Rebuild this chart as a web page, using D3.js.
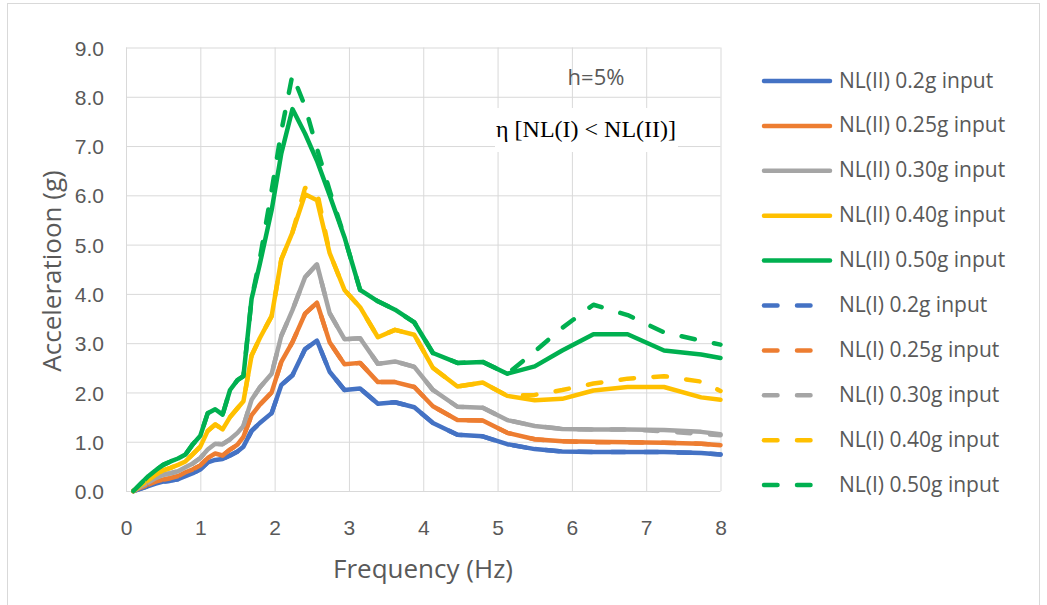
<!DOCTYPE html>
<html>
<head>
<meta charset="utf-8">
<script src="https://cdn.jsdelivr.net/npm/d3@7"></script>
<style>
    body { margin: 0; background: #fff; }
    svg { display: block; font-family: 'Open Sans', sans-serif; }
</style>
</head>
<body>
<svg></svg>
<script>
/*
*   Data.
*/

const FREQ = [0.1, 0.2, 0.3, 0.4, 0.5, 0.6, 0.7, 0.8, 0.9, 1.0, 1.1, 1.2, 1.3, 1.4, 1.5, 1.58, 1.69, 1.8, 1.96, 2.09,
    2.24, 2.41, 2.57, 2.74, 2.94, 3.15, 3.39, 3.62, 3.88, 4.13, 4.46, 4.80, 5.13, 5.50, 5.87, 6.29, 6.75, 7.24, 7.74, 8.0]

const NL2_020 = [0.0, 0.05, 0.1, 0.15, 0.19, 0.21, 0.24, 0.3, 0.36, 0.44, 0.58, 0.63, 0.65, 0.72, 0.8, 0.9, 1.22, 1.38, 1.58, 2.15,
    2.35, 2.88, 3.05, 2.42, 2.05, 2.08, 1.77, 1.80, 1.70, 1.38, 1.14, 1.11, 0.95, 0.85, 0.80, 0.79, 0.79, 0.79, 0.77, 0.74]
const NL2_025 = [0.0, 0.07, 0.13, 0.19, 0.23, 0.26, 0.3, 0.38, 0.44, 0.52, 0.67, 0.76, 0.72, 0.84, 0.94, 1.1, 1.54, 1.75, 2.0, 2.62,
    3.02, 3.6, 3.82, 3.02, 2.57, 2.6, 2.21, 2.21, 2.11, 1.72, 1.44, 1.43, 1.18, 1.05, 1.01, 1.0, 0.99, 0.98, 0.96, 0.93]
const NL2_030 = [0.0, 0.09, 0.17, 0.26, 0.33, 0.36, 0.4, 0.48, 0.56, 0.67, 0.84, 0.96, 0.95, 1.05, 1.18, 1.32, 1.85, 2.1, 2.38, 3.15,
    3.67, 4.34, 4.6, 3.61, 3.08, 3.1, 2.58, 2.63, 2.52, 2.05, 1.71, 1.69, 1.44, 1.32, 1.26, 1.25, 1.25, 1.24, 1.2, 1.15]
const NL2_040 = [0.0, 0.12, 0.22, 0.33, 0.42, 0.47, 0.53, 0.6, 0.75, 0.9, 1.22, 1.35, 1.25, 1.5, 1.68, 1.82, 2.75, 3.1, 3.55, 4.7,
    5.25, 6.02, 5.9, 4.83, 4.08, 3.73, 3.12, 3.27, 3.17, 2.5, 2.12, 2.2, 1.93, 1.84, 1.87, 2.04, 2.11, 2.11, 1.9, 1.85]
const NL2_050 = [0.0, 0.15, 0.3, 0.42, 0.53, 0.6, 0.66, 0.74, 0.95, 1.12, 1.58, 1.66, 1.55, 2.05, 2.25, 2.33, 3.9, 4.6, 5.7, 6.85,
    7.75, 7.25, 6.7, 6.0, 5.15, 4.08, 3.85, 3.68, 3.42, 2.8, 2.6, 2.62, 2.38, 2.53, 2.85, 3.18, 3.18, 2.85, 2.77, 2.7]

const NL1_020 = [0.0, 0.05, 0.1, 0.15, 0.19, 0.21, 0.24, 0.3, 0.36, 0.44, 0.58, 0.63, 0.65, 0.72, 0.8, 0.9, 1.22, 1.38, 1.58, 2.15,
    2.35, 2.88, 3.05, 2.42, 2.05, 2.08, 1.77, 1.80, 1.70, 1.38, 1.14, 1.11, 0.95, 0.85, 0.80, 0.79, 0.79, 0.79, 0.77, 0.74]
const NL1_025 = [0.0, 0.07, 0.13, 0.19, 0.23, 0.26, 0.3, 0.38, 0.44, 0.52, 0.67, 0.76, 0.72, 0.84, 0.94, 1.1, 1.54, 1.75, 2.0, 2.62,
    3.02, 3.6, 3.82, 3.02, 2.57, 2.6, 2.21, 2.21, 2.11, 1.72, 1.44, 1.43, 1.18, 1.05, 1.01, 0.99, 0.99, 0.98, 0.96, 0.93]
const NL1_030 = [0.0, 0.09, 0.17, 0.26, 0.33, 0.36, 0.4, 0.48, 0.56, 0.67, 0.84, 0.96, 0.95, 1.05, 1.18, 1.32, 1.85, 2.1, 2.38, 3.15,
    3.67, 4.34, 4.6, 3.61, 3.08, 3.1, 2.58, 2.63, 2.52, 2.05, 1.71, 1.69, 1.44, 1.32, 1.26, 1.25, 1.25, 1.21, 1.16, 1.13]
const NL1_040 = [0.0, 0.12, 0.22, 0.33, 0.42, 0.47, 0.53, 0.6, 0.75, 0.9, 1.22, 1.35, 1.25, 1.5, 1.68, 1.82, 2.75, 3.1, 3.55, 4.7,
    5.25, 6.15, 6.08, 4.83, 4.08, 3.73, 3.12, 3.27, 3.17, 2.5, 2.12, 2.2, 1.93, 1.95, 2.05, 2.18, 2.28, 2.33, 2.22, 2.03]
const NL1_050 = [0.0, 0.15, 0.3, 0.42, 0.53, 0.6, 0.66, 0.74, 0.95, 1.12, 1.58, 1.66, 1.55, 2.05, 2.25, 2.33, 3.9, 4.7, 6.1, 7.3,
    8.45, 7.8, 6.95, 6.1, 5.15, 4.08, 3.85, 3.68, 3.42, 2.8, 2.6, 2.62, 2.38, 2.83, 3.31, 3.78, 3.57, 3.22, 3.05, 2.97]

const SERIES_NAMES = ['NL(II) 0.2g input', 'NL(II) 0.25g input', 'NL(II) 0.30g input', 'NL(II) 0.40g input', 'NL(II) 0.50g input',
    'NL(I) 0.2g input', 'NL(I) 0.25g input', 'NL(I) 0.30g input', 'NL(I) 0.40g input', 'NL(I) 0.50g input']
const SERIES_VALUES = [NL2_020, NL2_025, NL2_030, NL2_040, NL2_050, NL1_020, NL1_025, NL1_030, NL1_040, NL1_050]

const X_TICKS = [0, 1, 2, 3, 4, 5, 6, 7, 8]
const Y_TICKS = [0, 1, 2, 3, 4, 5, 6, 7, 8, 9]


/*
*   Colors
*/

const COLORS = ['#4472C4', '#ED7D31', '#A5A5A5', '#FFC000', '#00B050']
const GRID = '#d9d9d9'
const TEXT = '#595959'


/*
*   Constants
*/

const WIDTH = 1047
const HEIGHT = 605
const PLOT = { left: 126, right: 720.5, top: 47.5, bottom: 491 }
const LINE_WIDTH = 4.5
const DASH = '13.5,19.5'
const LEGEND = { x1: 762, x2: 832, x2dash: 826, textX: 839, top: 81, step: 44.9 }


const svg = d3.select('svg')
    .attr('width', WIDTH)
    .attr('height', HEIGHT)

svg.append('rect')
    .attr('x', 7.5)
    .attr('y', 3.5)
    .attr('width', 1032)
    .attr('height', 640)
    .attr('fill', '#fff')
    .attr('stroke', GRID)


/*
*   Scales and axes
*/

const x = d3.scaleLinear().domain([0, 8]).range([PLOT.left, PLOT.right])
const y = d3.scaleLinear().domain([0, 9]).range([PLOT.bottom, PLOT.top])

const styleAxis = g => {
    g.select('.domain').remove()
    g.selectAll('line').attr('stroke', GRID).attr('stroke-width', 1)
    g.selectAll('text').attr('fill', TEXT).style('font-size', '21px')
}

svg.append('g')
    .attr('transform', `translate(0,${PLOT.bottom})`)
    .call(d3.axisBottom(x).tickValues(X_TICKS).tickFormat(d3.format('d'))
        .tickSize(-(PLOT.bottom - PLOT.top)).tickPadding(29))
    .call(styleAxis)

svg.append('g')
    .attr('transform', `translate(${PLOT.left},0)`)
    .call(d3.axisLeft(y).tickValues(Y_TICKS).tickFormat(d3.format('.1f'))
        .tickSize(-(PLOT.right - PLOT.left)).tickPadding(22))
    .call(styleAxis)
    .call(g => g.selectAll('text').attr('dy', '0.36em'))


/*
*   Axis titles
*/

svg.append('text')
    .attr('x', 423)
    .attr('y', 578)
    .attr('text-anchor', 'middle')
    .attr('fill', TEXT)
    .style('font-size', '26px')
    .text('Frequency (Hz)')

svg.append('text')
    .attr('transform', 'translate(61,271) rotate(-90)')
    .attr('text-anchor', 'middle')
    .attr('fill', TEXT)
    .style('font-size', '26px')
    .text('Acceleratioon (g)')


/*
*   Annotations
*/

svg.append('text')
    .attr('x', 596)
    .attr('y', 85)
    .attr('text-anchor', 'middle')
    .attr('fill', TEXT)
    .style('font-size', '22px')
    .text('h=5%')

svg.append('rect')
    .attr('x', 495)
    .attr('y', 108)
    .attr('width', 183)
    .attr('height', 44)
    .attr('fill', '#fff')

svg.append('text')
    .attr('x', 586)
    .attr('y', 137)
    .attr('text-anchor', 'middle')
    .attr('fill', '#000')
    .style('font-family', "'Liberation Serif', 'Times New Roman', serif")
    .style('font-size', '24px')
    .text('η [NL(I) < NL(II)]')


/*
*   Series lines
*/

const line = d3.line()
    .x((d, i) => x(FREQ[i]))
    .y(d => y(d))

svg.append('g')
    .selectAll('path')
    .data(SERIES_VALUES)
    .join('path')
    .attr('d', d => line(d))
    .attr('fill', 'none')
    .attr('stroke', (d, i) => COLORS[i % 5])
    .attr('stroke-width', LINE_WIDTH)
    .attr('stroke-linejoin', 'round')
    .attr('stroke-linecap', 'round')
    .attr('stroke-dasharray', (d, i) => i < 5 ? null : DASH)


/*
*   Legend
*/

const legend = svg.append('g')
    .selectAll('g')
    .data(SERIES_NAMES)
    .join('g')
    .attr('transform', (d, i) => `translate(0,${LEGEND.top + i * LEGEND.step})`)

legend.append('line')
    .attr('x1', LEGEND.x1 + 2)
    .attr('x2', (d, i) => i < 5 ? LEGEND.x2 - 2 : LEGEND.x2dash)
    .attr('stroke', (d, i) => COLORS[i % 5])
    .attr('stroke-width', LINE_WIDTH)
    .attr('stroke-linecap', 'round')
    .attr('stroke-dasharray', (d, i) => i < 5 ? null : DASH)

legend.append('text')
    .attr('x', LEGEND.textX)
    .attr('y', 6.5)
    .attr('fill', TEXT)
    .style('font-size', '21px')
    .text(d => d)
</script>
</body>
</html>
